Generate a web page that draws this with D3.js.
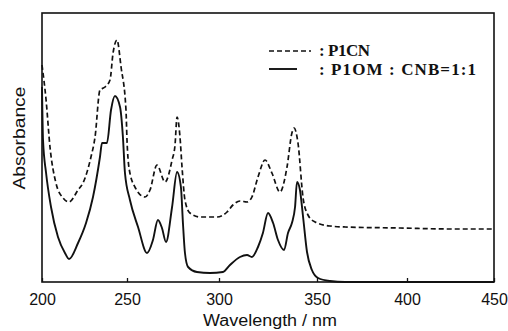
<!DOCTYPE html>
<html>
<head>
<meta charset="utf-8">
<script src="https://cdn.jsdelivr.net/npm/d3@7"></script>
<style>
  body { margin: 0; background: #fff; }
  svg { display: block; }
  text { fill: #111; }
</style>
</head>
<body>
<div id="chart"></div>
<script>
// wavelength (nm) tick labels
const xTicks = [200, 250, 300, 350, 400, 450];

// P1CN (dashed)
const p1cnWl = [200, 202.4, 204.7, 208.2, 212.4, 215.9, 221.2, 224.1, 228.8, 231.2, 234.1, 237.1, 240, 241.8, 244.1, 246.5, 249.4, 250, 251.1, 254.3, 259.8, 262.5, 266.3, 270.7, 274.5, 276.1, 277.2, 278.8, 279.9, 281.5, 284.2, 289.7, 298.9, 304.1, 307.1, 310.7, 314.3, 316.8, 319.9, 323.5, 327, 331.1, 334.7, 337.2, 338.3, 340.3, 342.9, 345.4, 349, 357.2, 365.6, 396.1, 424.7, 450];
const p1cnAbs = [2.17, 1.82, 1.35, 0.99, 0.84, 0.80, 0.92, 0.99, 1.25, 1.45, 1.92, 1.95, 2.02, 2.29, 2.42, 2.15, 1.72, 1.42, 1.14, 0.95, 0.85, 0.92, 1.17, 1.00, 1.22, 1.37, 1.65, 1.45, 1.15, 0.82, 0.69, 0.65, 0.65, 0.70, 0.77, 0.81, 0.80, 0.85, 1.05, 1.22, 1.09, 0.90, 1.15, 1.49, 1.54, 1.39, 0.84, 0.67, 0.60, 0.56, 0.55, 0.54, 0.53, 0.53];

// P1OM : CNB = 1:1 (solid)
const p1omWl = [200, 200.6, 202.4, 205.3, 209.4, 213.5, 215.9, 221.2, 225.9, 230, 234.1, 235.3, 238.2, 240.6, 242.9, 245.9, 247.6, 248.8, 251.6, 256, 260.9, 264.1, 266.8, 269, 271.2, 274.5, 277.2, 279.3, 280.4, 281.5, 283.2, 288, 295.1, 302, 305.6, 310.7, 314.3, 316.8, 319.9, 322.4, 325, 327.6, 330.1, 333.2, 335.2, 337.2, 338.8, 339.8, 341.3, 342.9, 344.9, 347.4, 350.6, 357.2, 365.6, 450];
const p1omAbs = [1.95, 1.42, 1.09, 0.75, 0.45, 0.29, 0.23, 0.39, 0.59, 0.85, 1.25, 1.39, 1.39, 1.72, 1.86, 1.75, 1.45, 1.09, 0.82, 0.55, 0.29, 0.42, 0.62, 0.54, 0.40, 0.75, 1.10, 0.95, 0.59, 0.29, 0.15, 0.10, 0.09, 0.10, 0.17, 0.25, 0.27, 0.25, 0.35, 0.49, 0.69, 0.59, 0.42, 0.32, 0.49, 0.59, 0.75, 1.00, 0.92, 0.65, 0.30, 0.12, 0.04, 0.01, 0.00, 0.00];

const legendLabels = [": P1CN", ": P1OM : CNB=1:1"];

const W = 508, H = 331;
const margin = { top: 13, right: 14, bottom: 49, left: 42 };
const width = W - margin.left - margin.right;
const height = H - margin.top - margin.bottom;

const svg = d3.select("#chart").append("svg")
  .attr("width", W).attr("height", H);
const g = svg.append("g")
  .attr("transform", `translate(${margin.left},${margin.top})`);

// the scanned axis is not evenly spaced, so calibrate on each tick
const x = d3.scaleLinear()
  .domain(xTicks)
  .range([0, 85, 177, 275, 365, width]);
const y = d3.scaleLinear().domain([0, 2.69]).range([height, 0]);

// frame
g.append("rect")
  .attr("width", width).attr("height", height)
  .attr("fill", "none").attr("stroke", "#111").attr("stroke-width", 1.6);

const xAxis = g.append("g")
  .attr("transform", `translate(0,${height})`)
  .call(d3.axisBottom(x).tickValues(xTicks).tickSize(-4).tickPadding(12).tickFormat(d3.format("d")));
xAxis.select(".domain").remove();
xAxis.selectAll("line").attr("stroke", "#111").attr("stroke-width", 1.3);
xAxis.selectAll("text")
  .attr("font-family", "'Liberation Sans', Arial, sans-serif")
  .attr("font-size", 16).attr("fill", "#111");

const line = d3.line()
  .x(d => x(d[0]))
  .y(d => y(d[1]))
  .curve(d3.curveMonotoneX);

g.append("path")
  .datum(d3.zip(p1cnWl, p1cnAbs))
  .attr("d", line)
  .attr("fill", "none").attr("stroke", "#111").attr("stroke-width", 1.7)
  .attr("stroke-dasharray", "5,3");

g.append("path")
  .datum(d3.zip(p1omWl, p1omAbs))
  .attr("d", line)
  .attr("fill", "none").attr("stroke", "#111").attr("stroke-width", 1.9);

// legend
const lg = svg.append("g").attr("transform", "translate(269,51)");
lg.append("line").attr("x1", 0).attr("x2", 42).attr("y1", 0).attr("y2", 0)
  .attr("stroke", "#111").attr("stroke-width", 1.7).attr("stroke-dasharray", "5,3");
lg.append("line").attr("x1", 0).attr("x2", 28).attr("y1", 18).attr("y2", 18)
  .attr("stroke", "#111").attr("stroke-width", 1.9);
lg.selectAll("text.lab")
  .data(legendLabels)
  .enter().append("text")
  .attr("class", "lab")
  .attr("x", 50)
  .attr("y", (d, i) => 5 + i * 19)
  .attr("font-family", "'Liberation Serif', 'Times New Roman', serif")
  .attr("font-weight", "bold")
  .attr("font-size", 17)
  .attr("textLength", (d, i) => i === 0 ? 51 : 157)
  .attr("lengthAdjust", "spacing")
  .text(d => d);

// axis titles
svg.append("text")
  .attr("x", 270).attr("y", 326)
  .attr("text-anchor", "middle")
  .attr("font-family", "'Liberation Sans', Arial, sans-serif")
  .attr("font-size", 16)
  .attr("textLength", 134).attr("lengthAdjust", "spacingAndGlyphs")
  .text("Wavelength / nm");

svg.append("text")
  .attr("transform", "translate(25,138) rotate(-90)")
  .attr("text-anchor", "middle")
  .attr("font-family", "'Liberation Sans', Arial, sans-serif")
  .attr("font-size", 16)
  .attr("textLength", 103).attr("lengthAdjust", "spacingAndGlyphs")
  .text("Absorbance");
</script>
</body>
</html>
